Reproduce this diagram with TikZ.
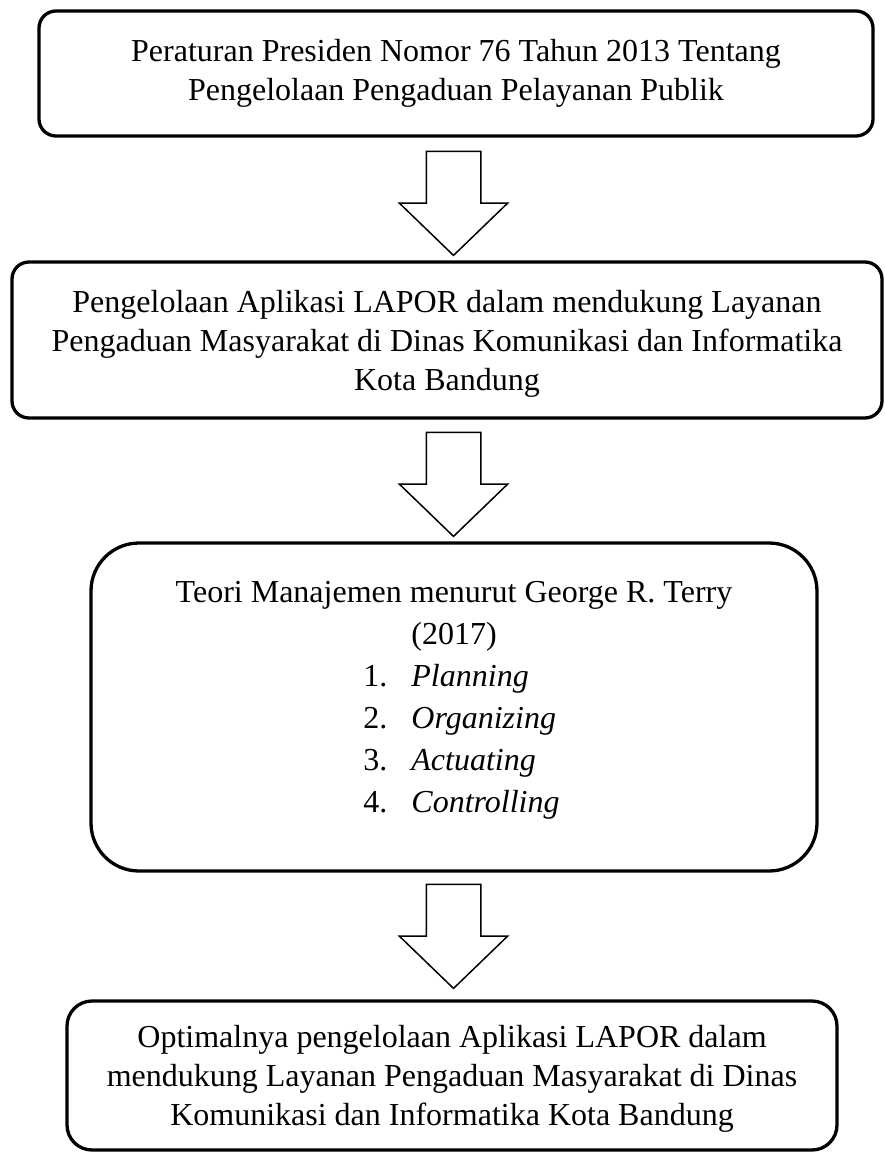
\documentclass[tikz,border=0pt]{standalone}
\usepackage{fontspec}
\setmainfont{Liberation Serif}
\usetikzlibrary{
	calc,
	shapes.arrows,
}
\tikzset{
	flowbox/.style={
		draw,
		line width=3.3pt,
		align=center,
		inner sep=0pt,
		font=\fontsize{32}{39}\selectfont,
	},
	downarrow/.style={
		draw,
		line width=1.5pt,
		single arrow,
		rotate=-90,
		anchor=tail,
		inner xsep=0pt,
		inner ysep=26.5pt,
		minimum height=104pt,
		minimum width=107pt,
		single arrow head extend=27pt,
		single arrow tip angle=92,
	},
}
\begin{document}
\begin{tikzpicture}[x=1pt,y=-1pt]
\useasboundingbox (0,0) rectangle (884,1154);
\node[flowbox, rounded corners=17pt, minimum width=834pt, minimum height=125pt] (peraturan) at (456,73.5)
	{Peraturan Presiden Nomor 76 Tahun 2013 Tentang\\
	Pengelolaan Pengaduan Pelayanan Publik};
\node[flowbox, rounded corners=17pt, minimum width=870pt, minimum height=156pt,
	text depth=-3pt] (pengelolaan) at (447,340)
	{Pengelolaan Aplikasi LAPOR dalam mendukung Layanan\\
	Pengaduan Masyarakat di Dinas Komunikasi dan Informatika\\
	Kota Bandung};
\node[flowbox, rounded corners=48pt, minimum width=726pt, minimum height=328pt,
	font=\fontsize{32}{42}\selectfont, text depth=147pt] (teori) at (454,707)
	{Teori Manajemen menurut George R. Terry\\
	(2017)\\
	\hspace*{15pt}\begin{tabular}[t]{@{}l@{\hspace{24pt}}l@{}}
		1. & \textit{Planning}\\
		2. & \textit{Organizing}\\
		3. & \textit{Actuating}\\
		4. & \textit{Controlling}
	\end{tabular}};
\node[flowbox, rounded corners=25pt, minimum width=770pt, minimum height=149pt,
	text depth=-3pt] (optimal) at (452,1075.5)
	{Optimalnya pengelolaan Aplikasi LAPOR dalam\\
	mendukung Layanan Pengaduan Masyarakat di Dinas\\
	Komunikasi dan Informatika Kota Bandung};
\node[downarrow] (arrow1) at ($(peraturan.south)+(-2.5,13)$) {};
\node[downarrow] (arrow2) at ($(pengelolaan.south)+(6.5,12)$) {};
\node[downarrow] (arrow3) at ($(teori.south)+(-0.5,11)$) {};
\end{tikzpicture}
\end{document}
